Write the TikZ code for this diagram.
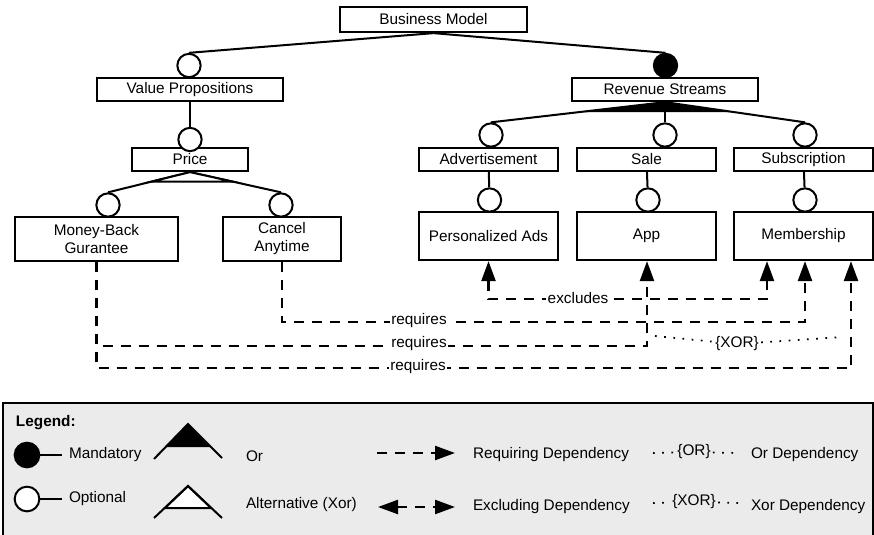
\documentclass[tikz,border=0pt]{standalone}
\usepackage{fontspec}
\setmainfont{Liberation Sans}
\usetikzlibrary{arrows.meta,calc}
\tikzset{every picture/.style={line width=1.5pt}}
\tikzset{
  feature/.style={draw, line width=1.7pt, fill=white, inner sep=1pt, align=center, font=\fontsize{11.5}{13.5}\selectfont},
  optional/.style={draw, circle, line width=1.5pt, fill=white, inner sep=0pt, minimum size=17.5pt},
  mandatory/.style={optional, fill=black},
  dep/.style={line width=1.8pt, dash pattern={on 7.5pt off 6pt}, >={Triangle[length=15pt,width=10.5pt]}},
  deplabel/.style={fill=white, inner sep=1pt, font=\fontsize{11.5}{13.5}\selectfont},
  xordep/.style={line width=1.3pt, dash pattern={on 1.3pt off 5.6pt}},
  legendtext/.style={anchor=west, inner sep=0pt, font=\fontsize{11.5}{13.5}\selectfont}
}

\begin{document}
\begin{tikzpicture}[x=0.75pt,y=0.75pt,yscale=-1,xscale=1]
    \useasboundingbox (0,0) rectangle (874,535);

    %Shape: Feature boxes
    \node[feature, minimum width=140pt, minimum height=18.75pt] (bm) at (433.5,19.5) {Business Model};
    \node[feature, minimum width=139.5pt, minimum height=17.25pt] (vp) at (190,89.5) {Value Propositions};
    \node[feature, minimum width=139.5pt, minimum height=17.25pt] (rs) at (665,89.5) {Revenue Streams};
    \node[feature, minimum width=87pt, minimum height=17.25pt] (price) at (190,159.5) {Price};
    \node[feature, minimum width=104.25pt, minimum height=17.25pt] (adv) at (488.5,159.5) {Advertisement};
    \node[feature, minimum width=104.25pt, minimum height=17.25pt] (sale) at (646.5,159.5) {Sale};
    \node[feature, minimum width=104.25pt, minimum height=17.25pt] (sub) at (803.5,159.5) {Subscription};
    \node[feature, minimum width=122.25pt, minimum height=33pt] (mbg) at (96.5,239) {Money-Back\\Gurantee};
    \node[feature, minimum width=88.5pt, minimum height=33pt] (ca) at (282,239) {Cancel\\Anytime};
    \node[feature, minimum width=104.25pt, minimum height=36pt] (pa) at (488.5,236) {Personalized Ads};
    \node[feature, minimum width=104.25pt, minimum height=36pt] (app) at (646.5,236) {App};
    \node[feature, minimum width=104.25pt, minimum height=36pt] (mem) at (803.5,236) {Membership};

    %Shape: Optional / mandatory circles
    \node[optional] (c_vp) at (189,65.5) {};
    \node[mandatory] (c_rs) at (665.5,65.5) {};
    \node[optional] (c_price) at (190,139.5) {};
    \node[optional] (c_mbg) at (108,205) {};
    \node[optional] (c_ca) at (281,205) {};
    \node[optional] (c_adv) at (491,135) {};
    \node[optional] (c_sale) at (665,135) {};
    \node[optional] (c_sub) at (805,135) {};
    \node[optional] (c_pa) at (489.5,200) {};
    \node[optional] (c_app) at (648,200) {};
    \node[optional] (c_mem) at (805,200) {};

    %Straight Lines: tree
    \draw (bm.south) -- (c_vp.north);
    \draw (bm.south) -- (c_rs.north);
    \draw (vp) -- (c_price);
    \draw (price.south) -- (c_mbg.north);
    \draw (price.south) -- (c_ca.north);
    \draw (rs.south) -- (c_adv.north);
    \draw (rs.south) -- (c_sale.north);
    \draw (rs.south) -- (c_sub.north);
    \draw (adv) -- (c_pa);
    \draw (sale) -- (c_app);
    \draw (sub) -- (c_mem);
    %Shape: Or group (filled) and alternative group (hollow)
    \fill (rs.south) -- ($(rs.south)!0.5!(c_adv.north)$) -- ($(rs.south)!0.5!(c_sub.north)$) -- cycle;
    \draw[fill=white] (price.south) -- ($(price.south)!0.47!(c_mbg.north)$) -- ($(price.south)!0.47!(c_ca.north)$) -- cycle;

    %Straight Lines: dependencies
    \draw[dep,<->] (pa.south) |- ($(mem.south)+(-36.5,38)$) -- ($(mem.south)+(-36.5,0)$);
    \draw[dep,->] (ca.south) |- ($(mem.south)+(1.5,61)$) -- ($(mem.south)+(1.5,0)$);
    \draw[dep,->] (mbg.south) |- ($(app.south)+(0.5,85)$) -- ($(app.south)+(0.5,0)$);
    \draw[dep,->] (mbg.south) |- ($(mem.south)+(47.5,107)$) -- ($(mem.south)+(47.5,0)$);

    % Text Node
    \node[deplabel] (l_excl) at (578,298) {excludes};
    \node[deplabel] (l_req1) at (419,321) {requires};
    \node[deplabel] (l_req2) at (419,344) {requires};
    \node[deplabel] (l_req3) at (418,367) {requires};

    %Dotted: xor between the two requirements of Money-Back Gurantee
    \coordinate (xor_l) at (655,336);
    \coordinate (xor_r) at (842,337);
    \node[inner sep=1pt, font=\fontsize{11.5}{13.5}\selectfont] (l_xor) at (737,344) {\{XOR\}};
    \draw[xordep] (xor_l) -- (l_xor);
    \draw[xordep] (l_xor) -- (xor_r);

    %Shape: Legend
    \draw[line width=1.6pt, fill={rgb, 255:red, 235; green, 235; blue, 235}] (3,403) rectangle (873,545);
    \node[legendtext, font=\fontsize{11.5}{13.5}\selectfont\bfseries] (lg) at (15,423) {Legend:};
    \node[mandatory, minimum size=18.5pt] (lg_mand) at (27,455) {};
    \node[legendtext, inner sep=4.5pt] (lg_mandt) at (62,455) {Mandatory};
    \draw (lg_mand.east) -- (lg_mandt.west);
    \node[optional, minimum size=18.5pt] (lg_opt) at (27,499) {};
    \node[legendtext, inner sep=4.5pt] (lg_optt) at (62,499) {Optional};
    \draw (lg_opt.east) -- (lg_optt.west);
    % Or / alternative groups
    \fill (188,424) -- (165.5,447) -- (210.5,447) -- cycle;
    \draw (154,459) -- (188,424) -- (222,458);
    \draw[fill=white] (188,486) -- (165,508) -- (211,508) -- cycle;
    \draw (154,518) -- (188,486) -- (222,518);
    \node[legendtext] (lg_or) at (245,456) {Or};
    \node[legendtext] (lg_alt) at (245,505) {Alternative (Xor)};
    % dependency arrows
    \draw[dep,->] (377,453) -- (455,453);
    \draw[dep,<->] (378,507) -- (455,507);
    \node[legendtext] (lg_req) at (472,455) {Requiring Dependency};
    \node[legendtext] (lg_exc) at (472,507) {Excluding Dependency};
    % or / xor dependencies
    \node[inner sep=1pt, font=\fontsize{11.5}{13.5}\selectfont] (lg_orl) at (694,452) {\{OR\}};
    \draw[xordep] (653,453) -- (lg_orl);
    \draw[xordep] (lg_orl) -- (738,453);
    \node[inner sep=1pt, font=\fontsize{11.5}{13.5}\selectfont] (lg_xorl) at (694,502) {\{XOR\}};
    \draw[xordep] (653,503) -- (lg_xorl);
    \draw[xordep] (lg_xorl) -- (738,503);
    \node[legendtext] (lg_ordep) at (750,455) {Or Dependency};
    \node[legendtext] (lg_xordep) at (750,507) {Xor Dependency};
\end{tikzpicture}
\end{document}
